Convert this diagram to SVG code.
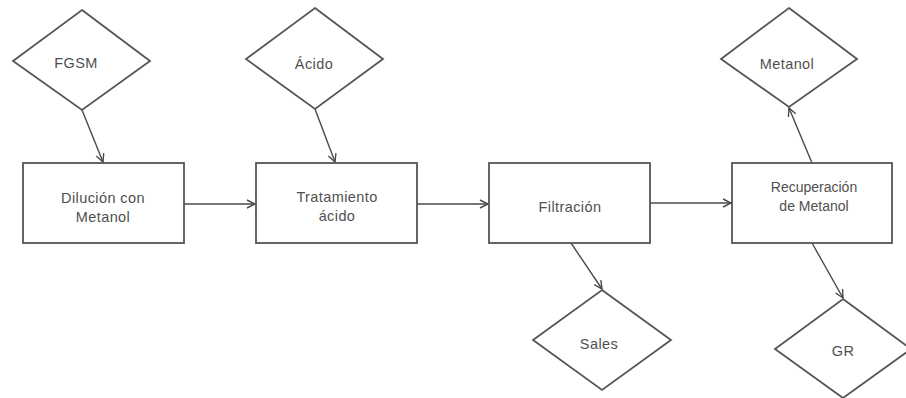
<svg xmlns="http://www.w3.org/2000/svg" width="906" height="398" viewBox="0 0 906 398">
  <style>
    .shape { fill: #ffffff; stroke: #555555; stroke-width: 1.8; }
    .edge { fill: none; stroke: #4a4a4a; stroke-width: 1.4; }
    text { font-family: "Liberation Sans", Arial, sans-serif; font-size: 14.5px; fill: #505050; text-anchor: middle; letter-spacing: 0.4px; }
    .tight { letter-spacing: 0; font-size: 14px; }
  </style>
  <defs>
    <marker id="arrow" viewBox="0 0 10 10" refX="9" refY="5" markerWidth="10" markerHeight="10" markerUnits="userSpaceOnUse" orient="auto">
      <path d="M1,1 L9,5 L1,9" fill="none" stroke="#4a4a4a" stroke-width="1.4"/>
    </marker>
  </defs>

  <rect width="906" height="398" fill="#ffffff"/>

  <!-- connectors -->
  <g id="connectors">
    <line class="edge" x1="82" y1="110" x2="103" y2="162" marker-end="url(#arrow)"/>
    <line class="edge" x1="315" y1="109" x2="335" y2="162" marker-end="url(#arrow)"/>
    <line class="edge" x1="184" y1="204" x2="255" y2="204" marker-end="url(#arrow)"/>
    <line class="edge" x1="417" y1="204" x2="488" y2="204" marker-end="url(#arrow)"/>
    <line class="edge" x1="650" y1="203" x2="731" y2="203" marker-end="url(#arrow)"/>
    <line class="edge" x1="571" y1="243" x2="602" y2="289" marker-end="url(#arrow)"/>
    <line class="edge" x1="812" y1="163" x2="789" y2="108" marker-end="url(#arrow)"/>
    <line class="edge" x1="812" y1="243" x2="843" y2="298" marker-end="url(#arrow)"/>
  </g>

  <!-- inputs / outputs -->
  <g id="fgsm">
    <polygon class="shape" points="82,10 150,61 82,110 13,61"/>
    <text x="76" y="68">FGSM</text>
  </g>
  <g id="acido">
    <polygon class="shape" points="315,8 383,59 315,109 246,59"/>
    <text x="314" y="69">Ácido</text>
  </g>
  <g id="metanol">
    <polygon class="shape" points="789,8 857,59 789,107 721,59"/>
    <text x="787" y="69">Metanol</text>
  </g>
  <g id="sales">
    <polygon class="shape" points="602,290 671,340 602,390 533,340"/>
    <text x="599" y="349">Sales</text>
  </g>
  <g id="gr">
    <polygon class="shape" points="843,299 911,349 843,398 775,349"/>
    <text x="843" y="356">GR</text>
  </g>

  <!-- process steps -->
  <g id="dilucion">
    <rect class="shape" x="23" y="163" width="161" height="80"/>
    <text x="103" y="203">Dilución con</text>
    <text x="103" y="222">Metanol</text>
  </g>
  <g id="tratamiento">
    <rect class="shape" x="256" y="163" width="161" height="80"/>
    <text x="337" y="202">Tratamiento</text>
    <text x="337" y="221">ácido</text>
  </g>
  <g id="filtracion">
    <rect class="shape" x="489" y="163" width="161" height="80"/>
    <text x="570" y="212">Filtración</text>
  </g>
  <g id="recuperacion">
    <rect class="shape" x="732" y="163" width="160" height="80"/>
    <text class="tight" x="814" y="192">Recuperación</text>
    <text class="tight" x="814" y="211">de Metanol</text>
  </g>
</svg>
